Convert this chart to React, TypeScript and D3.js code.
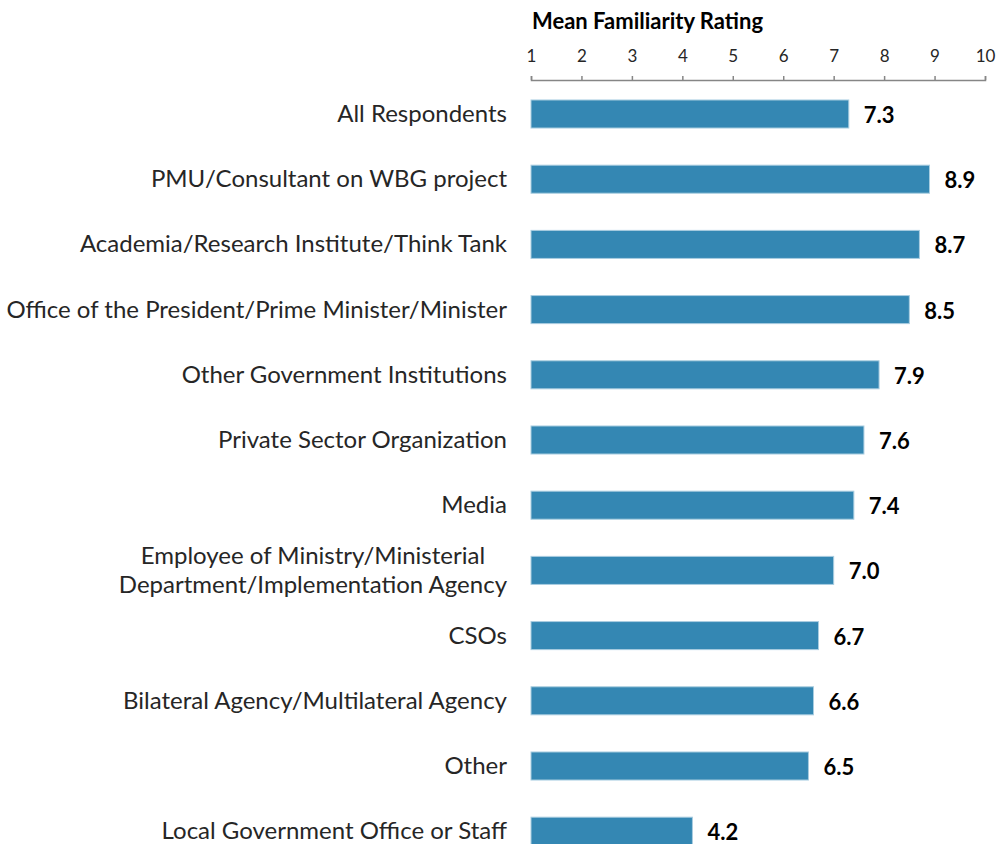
import { useEffect, useRef } from 'react'
import * as d3 from 'd3'

const categories = [
  'All Respondents',
  'PMU/Consultant on WBG project',
  'Academia/Research Institute/Think Tank',
  'Office of the President/Prime Minister/Minister',
  'Other Government Institutions',
  'Private Sector Organization',
  'Media',
  'Employee of Ministry/Ministerial\nDepartment/Implementation Agency',
  'CSOs',
  'Bilateral Agency/Multilateral Agency',
  'Other',
  'Local Government Office or Staff',
]
const values = [7.3, 8.9, 8.7, 8.5, 7.9, 7.6, 7.4, 7.0, 6.7, 6.6, 6.5, 4.2]
const ticks = [1, 2, 3, 4, 5, 6, 7, 8, 9, 10]

const FONT = 'Lato, "Open Sans", sans-serif'

export default function App() {
  const svgRef = useRef<SVGSVGElement>(null)

  useEffect(() => {
    if (!svgRef.current) return
    const svg = d3.select(svgRef.current)
    svg.selectAll('*').remove()

    const W = 998
    const H = 844
    const x = d3.scaleLinear().domain([1, 10]).range([531, 985])
    const y = d3.scaleBand<number>()
      .domain(d3.range(categories.length))
      .range([81.4, 81.4 + 65.2 * categories.length])
      .paddingInner(0.57)
      .paddingOuter(0.285)

    svg.attr('width', W).attr('height', H).style('font-family', FONT)

    // Title
    svg.append('text')
      .attr('x', 532).attr('y', 29)
      .attr('font-size', 22).attr('font-weight', 700).attr('fill', '#000')
      .text('Mean Familiarity Rating')

    // Axis on top
    const axisY = 80
    const ax = svg.append('g').attr('transform', `translate(0,${axisY})`)
      .call(d3.axisTop(x).tickValues(ticks).tickSize(4).tickSizeOuter(4).tickPadding(14))
    ax.select('.domain').attr('stroke', '#868686').attr('stroke-width', 1.5)
    ax.selectAll('.tick line').attr('stroke', '#868686').attr('stroke-width', 1.5)
    ax.selectAll('text').attr('font-size', 17).attr('fill', '#262626').attr('font-family', FONT)

    // Bars
    svg.append('g').selectAll('rect')
      .data(values)
      .join('rect')
      .attr('x', x(1))
      .attr('y', (_, i) => y(i)!)
      .attr('width', d => x(d) - x(1))
      .attr('height', y.bandwidth())
      .attr('fill', '#3487b3')
      .attr('stroke', '#a9cde0')
      .attr('stroke-width', 1)

    // Value labels
    svg.append('g').selectAll('text')
      .data(values)
      .join('text')
      .attr('x', d => x(d) + 15)
      .attr('y', (_, i) => y(i)! + y.bandwidth() / 2 + 9)
      .attr('font-size', 22).attr('font-weight', 700).attr('fill', '#000')
      .text(d => d.toFixed(1))

    // Category labels
    const labelRight = 507
    categories.forEach((c, i) => {
      const lines = c.split('\n')
      const cy = y(i)! + y.bandwidth() / 2
      const g = svg.append('g')
      const lineH = 29
      const texts = lines.map((ln, k) => g.append('text')
        .attr('y', cy + (k - (lines.length - 1) / 2) * lineH + 8)
        .attr('font-size', 24).attr('fill', '#262626')
        .text(ln))
      const widths = texts.map(t => (t.node() as SVGTextElement).getComputedTextLength())
      const maxW = Math.max(...widths)
      texts.forEach(t => t.attr('x', labelRight - maxW / 2).attr('text-anchor', 'middle'))
    })
  }, [])

  return (
    <div style={{ position: 'absolute', left: 0, top: 0, background: '#fff' }}>
      <svg ref={svgRef} />
    </div>
  )
}
